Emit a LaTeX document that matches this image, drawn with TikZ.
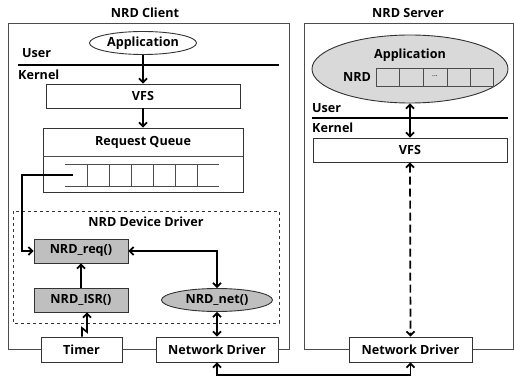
\documentclass[tikz,border=0pt]{standalone}
\usepackage{fontspec}
\setmainfont{Open Sans}
\usetikzlibrary{arrows.meta,shapes.geometric,shadows}
\begin{document}
\begin{tikzpicture}[x=1pt,y=-1pt,
  every node/.style={font=\fontsize{12.6}{14}\selectfont\bfseries, inner sep=0pt},
  frame/.style={draw=black!70, line width=0.9pt},
  box/.style={draw=black!80, line width=0.9pt, fill=white, rectangle, drop shadow={shadow xshift=1pt, shadow yshift=-1pt, opacity=0.35}},
  graybox/.style={box, fill=black!25},
  oval/.style={draw=black!80, line width=0.9pt, ellipse},
  arr/.style={line width=1.7pt, -{Straight Barb[length=4pt,width=8pt]}},
  darr/.style={line width=1.7pt, {Straight Barb[length=4pt,width=8pt]}-{Straight Barb[length=4pt,width=8pt]}},
  sep/.style={line width=2.7pt},
  thin/.style={draw=black!70, line width=0.9pt}
]
\useasboundingbox (0,0) rectangle (514,377);

% ---------- Client ----------
\node (ctitle) at (145,13) {NRD Client};
\draw[frame] (8,23) rectangle (289,349);
\node[oval, fill=white, minimum width=107pt, minimum height=23pt] (capp) at (143,43) {Application};
\node[anchor=west] (cuser) at (22,53) {User};
\node[anchor=west] (ckern) at (18,75) {Kernel};
\coordinate (cl1) at (18,65); \coordinate (cl2) at (279,65);
\draw[sep] (cl1) -- (cl2);
\node[box, minimum width=194pt, minimum height=24pt] (cvfs) at (143,96) {VFS};
\node[box, minimum width=200pt, minimum height=64pt] (rq) at (143,160) {};
\node (rqt) at (143,142) {Request Queue};
\coordinate (rqd1) at (43,156); \coordinate (rqd2) at (243,156);
\draw[thin] (rqd1) -- (rqd2);
\coordinate (q1) at (65,164); \coordinate (q2) at (219,164);
\coordinate (q3) at (65,186); \coordinate (q4) at (219,186);
\draw[thin] (q1) -- (q2) (q3) -- (q4);
\foreach \x in {87,109,131,153,175,197} \draw[thin] (\x,164) -- (\x,186);

\draw[dashed, draw=black!80, line width=0.7pt] (13,211) rectangle (279,323);
\node (ddt) at (146,222) {NRD Device Driver};

\node[graybox, minimum width=94pt, minimum height=24pt] (req) at (81,251) {NRD\_req()};
\node[graybox, minimum width=94pt, minimum height=24pt] (isr) at (81,300) {NRD\_ISR()};
\node[oval, fill=black!25, minimum width=111pt, minimum height=23pt] (net) at (217,300) {NRD\_net()};
\node[box, minimum width=81pt, minimum height=25pt] (timer) at (81.5,349.5) {Timer};
\node[box, minimum width=122pt, minimum height=25pt] (cnd) at (217,349.5) {Network Driver};

\draw[arr] (capp.south) -- (cvfs.north);
\draw[arr] (cvfs.south) -- (rq.north);
\coordinate (qs) at (73,175);
\draw[arr] (qs) -- (22,175) |- (req.west);
\draw[arr] (isr.north) -- (req.south);
\draw[darr] (req.east) -| (net.north);
\draw[darr] (net.south) -- (cnd.north);
\draw[arr] (timer.north -| 82,0) -- (82,328) -- (87,332) -- (isr.south -| 87,0);

% ---------- Server ----------
\node (stitle) at (408,13) {NRD Server};
\draw[frame] (304,23) rectangle (513,349);
\node[oval, fill=black!15, minimum width=196pt, minimum height=68pt] (sapp) at (410,69) {};
\node (sappt) at (410,55) {Application};
\node (snrd) at (357,77) {NRD};
\draw[thin] (376,68) rectangle (493,86);
\foreach \x in {399,423,447,470} \draw[thin] (\x,68) -- (\x,86);
\node[font=\fontsize{7}{8}\selectfont] (sdots) at (435,76) {...};
\node[anchor=west] (suser) at (312,108) {User};
\coordinate (sl1) at (312,118); \coordinate (sl2) at (508,118);
\draw[sep] (sl1) -- (sl2);
\node[anchor=west] (skern) at (312,128) {Kernel};
\node[box, minimum width=194pt, minimum height=24pt] (svfs) at (410,150) {VFS};
\node[box, minimum width=123pt, minimum height=25pt] (snd) at (410.5,349.5) {Network Driver};

\draw[darr] (sapp.south) -- (svfs.north);
\draw[darr, dash pattern=on 8pt off 4pt] (svfs.south) -- (snd.north);

% ---------- link ----------
\coordinate (lk) at (217,375);
\draw[darr] (cnd.south) -- (lk) -| (snd.south);
\end{tikzpicture}
\end{document}
